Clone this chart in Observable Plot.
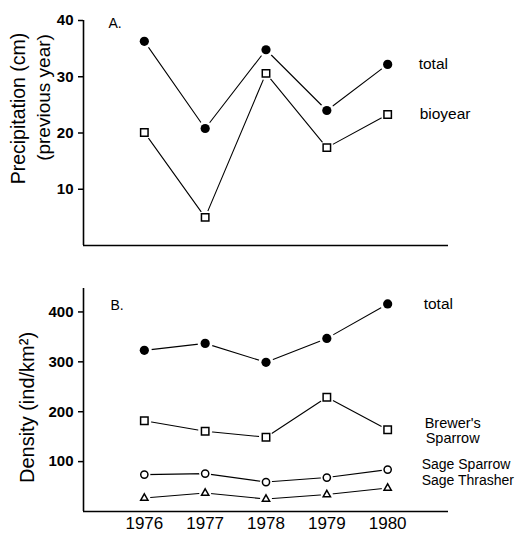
<!DOCTYPE html>
<html><head><meta charset="utf-8">
<script src="https://cdn.jsdelivr.net/npm/d3@7"></script>
<script src="https://cdn.jsdelivr.net/npm/@observablehq/plot@0.6"></script>
<style>
body{margin:0;background:#fff;}
#chart{position:relative;width:523px;height:533px;background:#fff;}
#chart svg{position:absolute;left:0;}
</style></head><body><div id="chart"></div>
<script>
// ---- data ----
const years = [1976, 1977, 1978, 1979, 1980];
const precipSeries = ["total", "bioyear"];
const precipTotal = [36.3, 20.8, 34.8, 24.0, 32.2];
const precipBioyear = [20.1, 5.0, 30.6, 17.4, 23.3];
const densitySeries = ["total", "Brewer's Sparrow", "Sage Sparrow", "Sage Thrasher"];
const densityTotal = [323, 337, 299, 347, 416];
const densityBrewers = [182, 161, 149, 229, 164];
const densitySageSparrow = [74, 76, 59, 68, 84];
const densitySageThrasher = [27, 37, 25, 34, 47];
const precipTicks = [10, 20, 30, 40];
const densityTicks = [100, 200, 300, 400];
const yearTicks = [1976, 1977, 1978, 1979, 1980];
const precipLabels = ["total", "bioyear"];
const densityLabels = ["total", "Brewer's\nSparrow", "Sage Sparrow", "Sage Thrasher"];
const precipTitles = ["Precipitation (cm)", "(previous year)"];
const densityTitle = "Density (ind/km\u00B2)";
const panelLetters = ["A.", "B."];
const xDomain = [1975, 1981];
const precipDomain = [0, 40];
const densityDomain = [0, 447];

// ---- styles ----
const FONT = "'Liberation Sans', Arial, Helvetica, sans-serif";
const markerA = [
  {symbol: "circle", r: 4.6, fill: "black", stroke: "none", halo: 7.5},
  {symbol: "square", r: 4.2, fill: "white", stroke: "black", halo: 7}
];
const markerB = [
  {symbol: "circle", r: 4.6, fill: "black", stroke: "none", halo: 7.5},
  {symbol: "square", r: 4.2, fill: "white", stroke: "black", halo: 7},
  {symbol: "circle", r: 3.6, fill: "white", stroke: "black", halo: 6},
  {symbol: "triangle", r: 2.7, fill: "white", stroke: "black", halo: 6}
];
const labelPosA = [
  {dx: 31, dy: 0, anchor: "start", size: 15.5},
  {dx: 32, dy: 0, anchor: "start", size: 15.5}
];
const labelPosB = [
  {dx: 36, dy: 0, anchor: "start", size: 15.5},
  {dx: 65, dy: 1, anchor: "middle", size: 14.5},
  {dx: 34, dy: -5.5, anchor: "start", size: 14},
  {dx: 34, dy: -7.5, anchor: "start", size: 14}
];

function toRows(names, arrays) {
  return names.map((s, i) => years.map((y, j) => ({series: s, year: y, value: arrays[i][j]})));
}

function seriesMarks(rowsList, markers, labels, labelPos) {
  const marks = [];
  rowsList.forEach((rows, i) => {
    const m = markers[i];
    marks.push(Plot.line(rows, {x: "year", y: "value", stroke: "black", strokeWidth: 1.1}));
    marks.push(Plot.dot(rows, {x: "year", y: "value", r: m.halo, fill: "white", stroke: "none"}));
    marks.push(Plot.dot(rows, {x: "year", y: "value", symbol: m.symbol, r: m.r, fill: m.fill, stroke: m.stroke, strokeWidth: 1.5}));
    const last = rows.slice(-1);
    const p = labelPos[i];
    marks.push(Plot.text(last, {x: "year", y: "value", text: () => labels[i], dx: p.dx, dy: p.dy,
      textAnchor: p.anchor, lineAnchor: "middle", lineHeight: 1.0, fontSize: p.size, fill: "black"}));
  });
  return marks;
}

const chart = document.getElementById("chart");

// ---- Panel A ----
const rowsA = toRows(precipSeries, [precipTotal, precipBioyear]);
const plotA = Plot.plot({
  width: 523, height: 260,
  marginLeft: 83, marginRight: 75, marginTop: 20, marginBottom: 15,
  x: {domain: xDomain, axis: null, label: null},
  y: {domain: precipDomain, axis: null, label: null},
  style: {fontFamily: FONT, color: "black", background: "white", overflow: "visible"},
  marks: [
    Plot.ruleX([xDomain[0]], {stroke: "black", strokeWidth: 1.6}),
    Plot.ruleY([precipDomain[0]], {stroke: "black", strokeWidth: 1.6}),
    Plot.axisY({ticks: precipTicks, tickSize: 5, tickPadding: 5, fontSize: 15, fontWeight: "bold", strokeWidth: 1.5, label: null}),
    ...seriesMarks(rowsA, markerA, precipLabels, labelPosA),
    Plot.text([panelLetters[0]], {frameAnchor: "top-left", dx: 25, dy: -2, fontSize: 14, fill: "black"}),
    Plot.text([precipTitles[0]], {frameAnchor: "left", rotate: -90, textAnchor: "middle", lineAnchor: "middle", dx: -65, dy: -24.5, fontSize: 19.5, fill: "black"}),
    Plot.text([precipTitles[1]], {frameAnchor: "left", rotate: -90, textAnchor: "middle", lineAnchor: "middle", dx: -40, dy: -35.5, fontSize: 19, fill: "black"})
  ]
});
plotA.style.top = "0px";
chart.appendChild(plotA);

// ---- Panel B ----
const rowsB = toRows(densitySeries, [densityTotal, densityBrewers, densitySageSparrow, densitySageThrasher]);
const plotB = Plot.plot({
  width: 523, height: 273,
  marginLeft: 83, marginRight: 75, marginTop: 28, marginBottom: 22,
  x: {domain: xDomain, axis: null, label: null},
  y: {domain: densityDomain, axis: null, label: null},
  style: {fontFamily: FONT, color: "black", background: "white", overflow: "visible"},
  marks: [
    Plot.ruleX([xDomain[0]], {stroke: "black", strokeWidth: 1.6}),
    Plot.ruleY([densityDomain[0]], {stroke: "black", strokeWidth: 1.6}),
    Plot.axisY({ticks: densityTicks, tickSize: 5, tickPadding: 5, fontSize: 15, fontWeight: "bold", strokeWidth: 1.5, label: null}),
    Plot.axisX({ticks: yearTicks, tickSize: 0, tickPadding: 5, fontSize: 17, tickFormat: d => `${d}`, label: null}),
    ...seriesMarks(rowsB, markerB, densityLabels, labelPosB),
    Plot.text([panelLetters[1]], {frameAnchor: "top-left", dx: 27, dy: 12, fontSize: 14, fill: "black"}),
    Plot.text([densityTitle], {frameAnchor: "left", rotate: -90, textAnchor: "middle", lineAnchor: "middle", dx: -56, dy: 7.5, fontSize: 20, fill: "black"})
  ]
});
plotB.style.top = "260px";
chart.appendChild(plotB);
</script>
</body></html>
